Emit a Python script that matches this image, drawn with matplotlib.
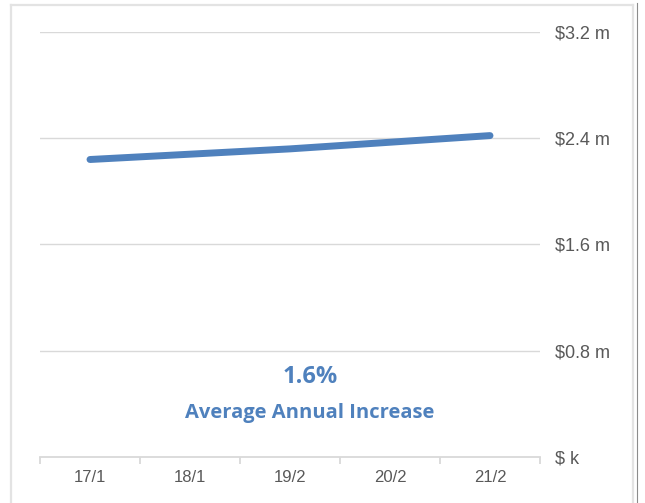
import numpy as np
import matplotlib.pyplot as plt
from matplotlib.lines import Line2D

periods = ["17/1", "18/1", "19/2", "20/2", "21/2"]
values = [2.24, 2.28, 2.32, 2.37, 2.42]  # $ millions
yticks = [0, 0.8, 1.6, 2.4, 3.2]
ytick_labels = ["$ k", "$0.8 m", "$1.6 m", "$2.4 m", "$3.2 m"]
avg_increase = "1.6%"

W, H = 645, 503
fig = plt.figure(figsize=(W / 100, H / 100), dpi=100)

# chart frame
fig.add_artist(Line2D([11 / W, 11 / W], [0, 1 - 5 / H], color="#e3e3e3", lw=1.6))
fig.add_artist(Line2D([11 / W, 633 / W], [1 - 5 / H, 1 - 5 / H], color="#e3e3e3", lw=1.6))
fig.add_artist(Line2D([633 / W, 633 / W], [0, 1 - 5 / H], color="#e3e3e3", lw=1.6))
fig.add_artist(Line2D([636.5 / W, 636.5 / W], [0, 1 - 3 / H], color="#8c8c8c", lw=0.8))

ax = fig.add_axes([40 / W, (H - 457) / H, 500 / W, 425 / H])
x = np.arange(len(periods))
ax.plot(x, values, color="#4f81bd", lw=5.0, solid_capstyle="round", zorder=3)

ax.set_xlim(-0.5, len(periods) - 0.5)
ax.set_ylim(0, 3.2)
for v in yticks[1:]:
    ax.axhline(v, color="#d9d9d9", lw=1.0, zorder=1)

for s in ["top", "left", "right"]:
    ax.spines[s].set_visible(False)
ax.spines["bottom"].set_color("#d9d9d9")
ax.spines["bottom"].set_linewidth(1.3)

ax.set_xticks(x)
ax.set_xticklabels(periods)
ax.set_xticks(np.arange(-0.5, len(periods)), minor=True)
ax.tick_params(axis="x", which="major", length=0, pad=9, labelsize=12, labelcolor="#595959")
ax.tick_params(axis="x", which="minor", length=5, width=1.3, color="#d9d9d9", direction="out")

ax.yaxis.tick_right()
ax.set_yticks(yticks)
ax.set_yticklabels(ytick_labels)
ax.tick_params(axis="y", length=0, pad=11, labelsize=13, labelcolor="#595959")
for t in ax.get_xticklabels() + ax.get_yticklabels():
    t.set_fontfamily("Liberation Sans")
    t.set_y(t.get_position()[1])

ax.text(2.2, 0.605, avg_increase, ha="center", va="center", fontsize=17,
        fontweight="bold", color="#4f81bd", family="Open Sans")
ax.text(2.2, 0.335, "Average Annual Increase", ha="center", va="center", fontsize=14.5,
        fontweight="bold", color="#4f81bd", family="Open Sans")

fig.savefig("out.png", dpi=100)
